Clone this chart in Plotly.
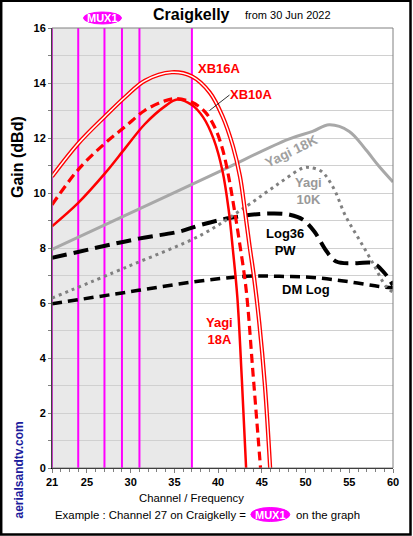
import plotly.graph_objects as go

# ---------------- data ----------------
xb16a_ch = [21, 24, 27.1, 29.4, 31.6, 34.7, 37, 39.05, 40.5, 41.7, 42.5, 43.05, 43.6, 44.1, 44.7, 45.35, 45.95]
xb16a_db = [10.6, 11.8, 12.8, 13.5, 14.08, 14.39, 14.24, 13.65, 12.79, 11.69, 10.6, 9.39, 8.06, 6.95, 5.3, 3.0, 0.0]

xb10a_ch = [21, 24, 27.1, 29.4, 31.6, 33.9, 35.2, 37, 38.5, 39.6, 40.5, 41.2, 41.8, 42.4, 43.2, 44.0, 44.85]
xb10a_db = [9.57, 10.85, 11.82, 12.42, 13.0, 13.35, 13.43, 13.3, 12.95, 12.4, 11.6, 10.6, 9.5, 8.3, 6.5, 3.4, 0.0]

yagi18a_ch = [21, 24, 27.1, 29.4, 31.6, 33.9, 35.3, 37, 38.3, 39.5, 40.5, 41.2, 41.7, 42.2, 42.7, 43.2]
yagi18a_db = [8.79, 9.64, 10.73, 11.64, 12.5, 13.15, 13.4, 13.2, 12.75, 11.95, 10.8, 9.4, 7.9, 6.2, 3.3, 0.0]

yagi18k_ch = [21, 30, 40, 48, 50.8, 52.7, 55, 56.9, 58.4, 60]
yagi18k_db = [7.95, 9.28, 10.76, 11.95, 12.24, 12.48, 12.24, 11.57, 10.97, 10.4]

yagi10k_ch = [21, 29.7, 38.1, 43.2, 47.0, 49.7, 50.4, 51.8, 53.1, 54.6, 56.15, 57.7, 59.2, 60]
yagi10k_db = [6.18, 7.33, 8.48, 9.51, 10.36, 10.91, 10.93, 10.79, 10.24, 9.15, 8.3, 7.45, 6.6, 6.4]

log36_ch = [21, 30.9, 35.6, 38.1, 41.3, 45.5, 48.2, 49.7, 51.0, 52.4, 53.5, 55.8, 57.7, 59.0, 60]
log36_db = [7.64, 8.34, 8.6, 8.85, 9.09, 9.25, 9.21, 9.03, 8.6, 7.88, 7.51, 7.45, 7.45, 7.1, 6.65]

dmlog_ch = [21, 30.9, 37.7, 43.2, 47.0, 50.8, 54.6, 58.4, 60]
dmlog_db = [5.97, 6.46, 6.79, 6.97, 6.97, 6.93, 6.79, 6.6, 6.55]

mux_channels = [21, 24, 27, 29, 31, 37]
shade_range = [21, 37]

x_tick_vals = [21, 25, 30, 35, 40, 45, 50, 55, 60]
y_tick_vals = list(range(0, 17))

# ---------------- layout helpers ----------------
W, H = 413, 536
L, R, T, B = 52, 393, 28, 468
FONT = "Liberation Sans, Arial, sans-serif"


def xp(px):
    return (px - L) / (R - L)


def yp(py):
    return (B - py) / (B - T)


fig = go.Figure()


def add_line(xs, ys, color, width, dash="solid", smoothing=1.0):
    fig.add_trace(go.Scatter(x=xs, y=ys, mode="lines",
                             line=dict(color=color, width=width, dash=dash,
                                       shape="spline", smoothing=smoothing),
                             hoverinfo="skip", showlegend=False))


add_line(dmlog_ch, dmlog_db, "black", 3.5, "10px,6px")
add_line(log36_ch, log36_db, "black", 4, "15px,7px")
add_line(yagi10k_ch, yagi10k_db, "#808080", 3, "3px,4px")
add_line(yagi18k_ch, yagi18k_db, "#a8a8a8", 3)
add_line(yagi18a_ch, yagi18a_db, "#ff0000", 2.5)
add_line(xb10a_ch, xb10a_db, "#ff0000", 3.2, "9px,5px")
add_line(xb16a_ch, xb16a_db, "#ff0000", 4.2)
add_line(xb16a_ch, xb16a_db, "white", 1.5)

shapes = []
# grey shaded region
shapes.append(dict(type="rect", xref="x", yref="y", x0=shade_range[0], x1=shade_range[1],
                   y0=0, y1=16, fillcolor="#e9e9e9", line=dict(width=0), layer="below"))
# mux lines
for c in mux_channels:
    shapes.append(dict(type="line", xref="x", yref="y", x0=c, x1=c, y0=0, y1=16,
                       line=dict(color="#ff00ff", width=2), layer="between"))
# plot frame (top/right grey)
shapes.append(dict(type="rect", xref="paper", yref="paper", x0=0, x1=1, y0=0, y1=1,
                   line=dict(color="#808080", width=1)))
# outer black border
shapes.append(dict(type="rect", xref="paper", yref="paper",
                   x0=xp(1.2), x1=xp(410.5), y0=yp(534.5), y1=yp(0.8),
                   line=dict(color="black", width=2.5)))
# leader for XB10A
shapes.append(dict(type="line", xref="paper", yref="paper",
                   x0=xp(229.5), y0=yp(95), x1=xp(209.5), y1=yp(110.5),
                   line=dict(color="black", width=0.8)))
# MUX1 ellipses
for cx, cy, w, h in [(102.5, 18, 38, 12), (270.3, 514.5, 39, 14)]:
    shapes.append(dict(type="circle", xref="paper", yref="paper",
                       x0=xp(cx - w / 2), x1=xp(cx + w / 2),
                       y0=yp(cy + h / 2), y1=yp(cy - h / 2),
                       fillcolor="#ff00ff", line=dict(color="#ff00ff", width=1)))

ann = []


def text(px, py, s, size, color="black", bold=False, angle=0, xanchor="center"):
    ann.append(dict(x=xp(px), y=yp(py), xref="paper", yref="paper",
                    text=(f"<b>{s}</b>" if bold else s), showarrow=False,
                    xanchor=xanchor, yanchor="middle", textangle=angle,
                    font=dict(family=FONT, size=size, color=color)))


text(191, 14, "Craigkelly", 16, bold=True)
text(288, 15, "from 30 Jun 2022", 11)
text(102.5, 18, "MUX1", 11, color="white", bold=True)
text(17, 157, "Gain (dBd)", 16, bold=True, angle=-90)
text(18, 470.5, "aerialsandtv.com", 12, color="#1c1c9c", bold=True, angle=-90)
text(191, 497.5, "Channel / Frequency", 11.3)
text(52.5, 515, "Example : Channel 27 on Craigkelly =", 11.4, xanchor="left")
text(270.3, 514.5, "MUX1", 11, color="white", bold=True)
text(294, 515, "on the graph", 11.4, xanchor="left")

text(219, 69, "XB16A", 13, color="#ff0000", bold=True)
text(251, 94, "XB10A", 13, color="#ff0000", bold=True)
text(291, 151, "Yagi 18K", 13.5, color="#a0a0a0", bold=True, angle=-26)
text(308, 191, "Yagi<br>10K", 13, color="#999999", bold=True)
text(285, 242, "Log36<br>PW", 13, bold=True)
text(305.5, 289.5, "DM Log", 13, bold=True)
text(219, 331, "Yagi<br>18A", 13, color="#ff0000", bold=True)

fig.update_layout(
    width=W, height=H,
    margin=dict(l=L, r=W - R, t=T, b=H - B, pad=0),
    paper_bgcolor="white", plot_bgcolor="white",
    shapes=shapes, annotations=ann, showlegend=False,
    font=dict(family=FONT, size=11, color="black"),
    xaxis=dict(range=[21, 60], tickmode="array", tickvals=x_tick_vals,
               ticktext=[f"<b>{v}</b>" for v in x_tick_vals],
               showgrid=False, zeroline=False, showline=True, linecolor="black", linewidth=1,
               ticks="outside", ticklen=4, tickcolor="#808080",
               minor=dict(dtick=1, tick0=21, ticks="outside", ticklen=3, tickcolor="#808080", showgrid=False),
               tickfont=dict(family=FONT, size=11, color="black")),
    yaxis=dict(range=[0, 16], tickmode="array", tickvals=y_tick_vals,
               ticktext=[f"<b>{v}</b>" if v % 2 == 0 else "" for v in y_tick_vals],
               showgrid=True, gridcolor="#d0d0d0", gridwidth=1,
               zeroline=False, showline=True, linecolor="black", linewidth=1,
               ticks="outside", ticklen=3, tickcolor="#808080",
               tickfont=dict(family=FONT, size=11, color="black")),
)

fig.write_html("out.html", config={"displayModeBar": False},
               post_script="document.body.style.margin='0px';document.body.style.padding='0px';")
